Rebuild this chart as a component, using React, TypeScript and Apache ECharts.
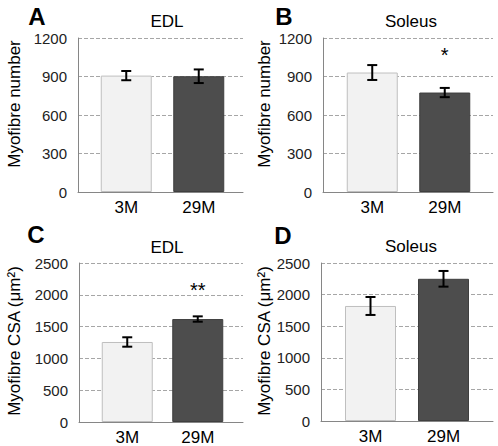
import React, { useEffect, useRef } from "react";
import * as echarts from "echarts";

// ---- data ----
const categories = ["3M", "29M"];
const edlNumber = [907, 902];
const edlNumberErr = [36, 53];
const solNumber = [931, 775];
const solNumberErr = [58, 36];
const edlCsa = [1258, 1619];
const edlCsaErr = [74, 42];
const solCsa = [1820, 2250];
const solCsaErr = [142, 124];
const numberAxis = { min: 0, max: 1200, interval: 300 };
const csaAxis = { min: 0, max: 2500, interval: 500 };
const panelLetters = ["A", "B", "C", "D"];
const muscleTitles = ["EDL", "Soleus", "EDL", "Soleus"];
const yTitles = ["Myofibre number", "Myofibre number", "Myofibre CSA (μm²)", "Myofibre CSA (μm²)"];
// significance marks: [category index, value position, text]
const sigA: [number, number, string][] = [];
const sigB: [number, number, string][] = [[1, 1100, "*"]];
const sigC: [number, number, string][] = [[1, 2140, "**"]];
const sigD: [number, number, string][] = [];

const FONT = "'Liberation Sans', Arial, sans-serif";

const panels = [
  { values: edlNumber, errs: edlNumberErr, axis: numberAxis, sig: sigA,
    frame: { left: 78, top: 38, width: 165, height: 154 }, bars: { left: 90, width: 145 },
    letter: [37, 16], title: [167, 21], ytitle: [14, 104] },
  { values: solNumber, errs: solNumberErr, axis: numberAxis, sig: sigB,
    frame: { left: 323, top: 38, width: 170, height: 154 }, bars: { left: 336, width: 145 },
    letter: [284, 16], title: [411, 21], ytitle: [264, 104] },
  { values: edlCsa, errs: edlCsaErr, axis: csaAxis, sig: sigC,
    frame: { left: 79, top: 263, width: 164, height: 159 }, bars: { left: 92, width: 141 },
    letter: [36, 234], title: [167, 247], ytitle: [14, 341] },
  { values: solCsa, errs: solCsaErr, axis: csaAxis, sig: sigD,
    frame: { left: 321, top: 263, width: 172, height: 158 }, bars: { left: 334, width: 146 },
    letter: [283, 235], title: [411, 246], ytitle: [264, 341] },
];

function buildOption() {
  const grid: any[] = [];
  const xAxis: any[] = [];
  const yAxis: any[] = [];
  const series: any[] = [];
  const graphic: any[] = [];

  panels.forEach((p, k) => {
    const fg = 2 * k;
    const bg = 2 * k + 1;
    grid.push({ left: p.frame.left, top: p.frame.top, width: p.frame.width, height: p.frame.height });
    grid.push({ left: p.bars.left, top: p.frame.top, width: p.bars.width, height: p.frame.height });

    xAxis.push({
      gridIndex: fg, type: "category", data: categories,
      axisLine: { show: true, lineStyle: { color: "#868686", width: 1 } },
      axisTick: { show: false }, axisLabel: { show: false }, splitLine: { show: false },
    });
    xAxis.push({
      gridIndex: bg, type: "category", data: categories,
      axisLine: { show: false }, axisTick: { show: false },
      axisLabel: { fontSize: 17, color: "#000", margin: 7, fontFamily: FONT },
    });
    yAxis.push({
      gridIndex: fg, type: "value", min: p.axis.min, max: p.axis.max, interval: p.axis.interval,
      axisLine: { show: true, lineStyle: { color: "#868686", width: 1 } },
      axisTick: { show: false },
      axisLabel: { fontSize: 15, color: "#222", margin: 11, fontFamily: FONT,
        formatter: (v: number) => String(v) },
      splitLine: { show: true, lineStyle: { color: "#a6a6a6", type: [4, 2], width: 1 } },
    });
    yAxis.push({
      gridIndex: bg, type: "value", min: p.axis.min, max: p.axis.max, interval: p.axis.interval,
      show: false, splitLine: { show: false },
    });

    series.push({
      type: "bar", xAxisIndex: bg, yAxisIndex: bg, barWidth: 51,
      data: p.values.map((v, i) => ({
        value: v,
        itemStyle: i === 0
          ? { color: "#f2f2f2", borderColor: "#bfbfbf", borderWidth: 1 }
          : { color: "#4d4d4d", borderColor: "#3f3f3f", borderWidth: 1 },
      })),
    });

    series.push({
      type: "custom", xAxisIndex: bg, yAxisIndex: bg, z: 5,
      data: p.values.map((v, i) => [i, v, p.errs[i]]),
      renderItem: (params: any, api: any) => {
        const idx = api.value(0);
        const v = api.value(1);
        const e = api.value(2);
        const hi = api.coord([idx, v + e]);
        const lo = api.coord([idx, v - e]);
        const cx = hi[0];
        const hw = 5;
        const st = { stroke: "#000", lineWidth: 2 };
        return {
          type: "group",
          children: [
            { type: "line", shape: { x1: cx, y1: hi[1], x2: cx, y2: lo[1] }, style: st },
            { type: "line", shape: { x1: cx - hw, y1: hi[1], x2: cx + hw, y2: hi[1] }, style: st },
            { type: "line", shape: { x1: cx - hw, y1: lo[1], x2: cx + hw, y2: lo[1] }, style: st },
          ],
        };
      },
    });

    if (p.sig.length) {
      const sig = p.sig;
      series.push({
        type: "custom", xAxisIndex: bg, yAxisIndex: bg, z: 5,
        data: sig.map((s) => [s[0], s[1]]),
        renderItem: (params: any, api: any) => {
          const pt = api.coord([api.value(0), api.value(1)]);
          return {
            type: "text",
            x: pt[0], y: pt[1] + 4,
            style: {
              text: sig[params.dataIndex][2], fontSize: 20, fontFamily: FONT,
              fill: "#000", align: "center", verticalAlign: "middle",
            },
          };
        },
      });
    }

    graphic.push({
      type: "text", x: p.letter[0], y: p.letter[1],
      style: { text: panelLetters[k], fontSize: 24, fontWeight: "bold", fontFamily: FONT,
        fill: "#000", align: "center", verticalAlign: "middle" },
    });
    graphic.push({
      type: "text", x: p.title[0], y: p.title[1],
      style: { text: muscleTitles[k], fontSize: 17, fontFamily: FONT,
        fill: "#000", align: "center", verticalAlign: "middle" },
    });
    graphic.push({
      type: "text", x: p.ytitle[0], y: p.ytitle[1], rotation: Math.PI / 2,
      style: { text: yTitles[k], fontSize: 17, fontFamily: FONT,
        fill: "#000", align: "center", verticalAlign: "middle" },
    });
  });

  return { animation: false, backgroundColor: "#fff", grid, xAxis, yAxis, series, graphic };
}

export default function App() {
  const ref = useRef<HTMLDivElement>(null);
  useEffect(() => {
    if (!ref.current) return;
    const chart = echarts.init(ref.current, undefined, { renderer: "svg" });
    chart.setOption(buildOption() as any);
    return () => chart.dispose();
  }, []);
  return (
    <div
      ref={ref}
      style={{ position: "absolute", left: 0, top: 0, width: 498, height: 446 }}
    />
  );
}
